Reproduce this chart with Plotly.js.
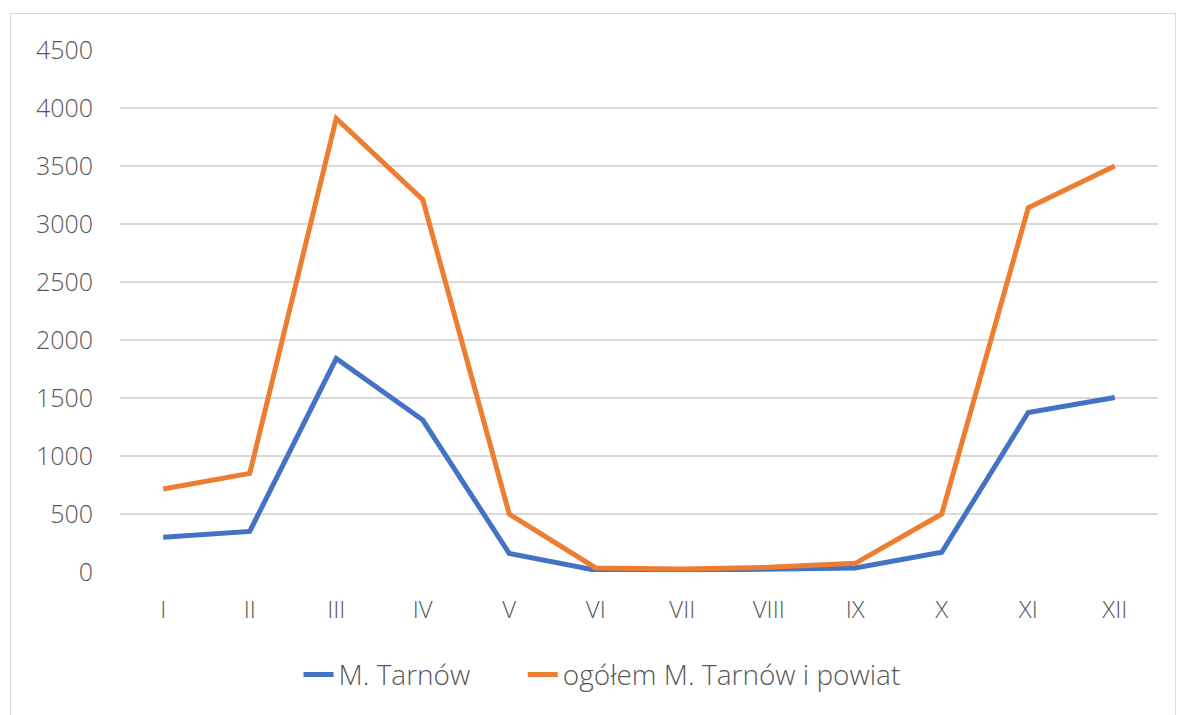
<!DOCTYPE html>
<html>
<head>
<meta charset="utf-8">
<script src="https://cdn.plot.ly/plotly-3.0.1.min.js"></script>
<style>
html,body{margin:0;padding:0;background:#fff;}
#frame{position:absolute;left:10px;top:13px;width:1166px;height:720px;border:1px solid #d9d9d9;box-sizing:border-box;pointer-events:none;z-index:5;}
#chart{position:absolute;left:0;top:0;width:1178px;height:715px;}
</style>
</head>
<body>
<div id="chart"></div>
<div id="frame"></div>
<script>
const months = ["I","II","III","IV","V","VI","VII","VIII","IX","X","XI","XII"];
const tarnow = [300, 350, 1840, 1310, 160, 15, 15, 25, 35, 170, 1375, 1505];
const total = [715, 850, 3910, 3210, 500, 35, 25, 40, 75, 500, 3140, 3500];
const yTicks = [0,500,1000,1500,2000,2500,3000,3500,4000,4500];

const font = "'Open Sans', 'Liberation Sans', Arial, sans-serif";
const legFont = {family: font, size: 28, color: "#595959", weight: 300};
const traces = [
  {x: months, y: tarnow, name: "M. Tarnów", type: "scatter", mode: "lines",
   line: {color: "#4472C4", width: 5}, legend: "legend"},
  {x: months, y: total, name: "ogółem M. Tarnów i powiat", type: "scatter", mode: "lines",
   line: {color: "#ED7D31", width: 5}, legend: "legend2"}
];
const layout = {
  width: 1178, height: 715,
  margin: {l: 120, r: 20, t: 50, b: 143},
  paper_bgcolor: "rgba(0,0,0,0)", plot_bgcolor: "#fff",
  font: {family: font, size: 25, color: "#595959", weight: 300},
  showlegend: true,
  legend: {orientation: "h", x: 0.172, xanchor: "left", y: -0.197, yanchor: "middle",
           bgcolor: "rgba(0,0,0,0)", font: legFont},
  legend2: {orientation: "h", x: 0.388, xanchor: "left", y: -0.197, yanchor: "middle",
           bgcolor: "rgba(0,0,0,0)", font: legFont},
  xaxis: {type: "category", showgrid: false, showline: false, zeroline: false,
          ticks: "outside", ticklen: 16, tickcolor: "rgba(0,0,0,0)",
          tickfont: {family: font, size: 24, color: "#595959", weight: 300},
          range: [-0.5, 11.5], fixedrange: true},
  yaxis: {range: [0, 4500], tickvals: yTicks, ticktext: yTicks.map(String),
          tickfont: {family: font, size: 25, color: "#595959", weight: 300},
          showgrid: true, gridcolor: "#d9d9d9", gridwidth: 1.5, zeroline: false,
          showline: false, ticks: "outside", ticklen: 21, tickcolor: "rgba(0,0,0,0)",
          fixedrange: true}
};
Plotly.newPlot("chart", traces, layout, {displayModeBar: false, staticPlot: true});
</script>
</body>
</html>
